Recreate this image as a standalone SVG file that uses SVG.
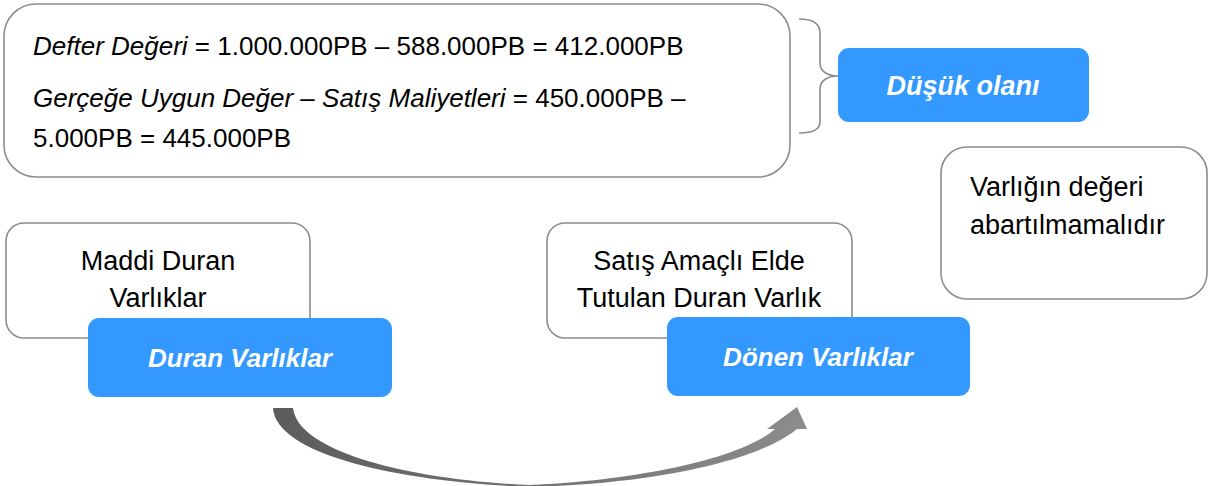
<svg xmlns="http://www.w3.org/2000/svg" width="1213" height="486" viewBox="0 0 1213 486">
  <defs>
    <style>
      .wbox { fill: #ffffff; stroke: #8c8c8c; stroke-width: 1.6; }
      .bbox { fill: #3399ff; stroke: none; }
      .t { font-family: "Liberation Sans", Arial, sans-serif; font-size: 27px; fill: #000000; }
      .tf { font-size: 26px; }
      .tc { text-anchor: middle; }
      .bt { font-family: "Liberation Sans", Arial, sans-serif; font-size: 26px; font-weight: bold; font-style: italic; fill: #ffffff; text-anchor: middle; }
      .it { font-style: italic; }
      .brace { fill: none; stroke: #8c8c8c; stroke-width: 1.6; }
    </style>
    <linearGradient id="arrowGrad" x1="0" y1="0" x2="1" y2="0">
      <stop offset="0" stop-color="#5c5c5c"/>
      <stop offset="1" stop-color="#8c8c8c"/>
    </linearGradient>
  </defs>

  <g id="formula-box">
    <rect class="wbox" x="4" y="4" width="786" height="173" rx="32" ry="32"/>
    <text class="t tf" x="33" y="55"><tspan class="it">Defter Değeri</tspan> = 1.000.000PB – 588.000PB = 412.000PB</text>
    <text class="t tf" x="33" y="107"><tspan class="it">Gerçeğe Uygun Değer – Satış Maliyetleri</tspan> = 450.000PB –</text>
    <text class="t tf" x="33" y="147">5.000PB = 445.000PB</text>
  </g>

  <g id="connectors">
    <path class="brace" d="M799,19 C813,19 820,23 820,33 L820,63 C820,71 827,76 838,76 C827,76 820,81 820,89 L820,122 C820,130 813,133 799,133"/>
    <path fill="url(#arrowGrad)" d="M273,408 C276,455 400,482 530,487 C650,484 757,462 797,429 L807,429 L797,407 L767,429 L775,429 C742,458 640,480 530,485 C410,480 298,452 293,408 Z"/>
  </g>

  <g id="dusuk-olani">
    <rect class="bbox" x="838" y="48" width="251" height="74" rx="11" ry="11"/>
    <text class="bt" x="963" y="95" style="font-size:27px">Düşük olanı</text>
  </g>

  <g id="varligin-degeri">
    <rect class="wbox" x="941" y="147" width="266" height="152" rx="26" ry="26"/>
    <text class="t" x="970" y="196">Varlığın değeri</text>
    <text class="t" x="970" y="234">abartılmamalıdır</text>
  </g>

  <g id="maddi-duran">
    <rect class="wbox" x="6" y="223" width="304" height="115" rx="18" ry="18"/>
    <text class="t tc" x="158" y="270">Maddi Duran</text>
    <text class="t tc" x="158" y="307">Varlıklar</text>
  </g>

  <g id="duran-varliklar">
    <rect class="bbox" x="88" y="318" width="304" height="79" rx="11" ry="11"/>
    <text class="bt" x="240" y="367">Duran Varlıklar</text>
  </g>

  <g id="satis-amacli">
    <rect class="wbox" x="547" y="223" width="305" height="115" rx="18" ry="18"/>
    <text class="t tc" x="699" y="270">Satış Amaçlı Elde</text>
    <text class="t tc" x="699" y="307">Tutulan Duran Varlık</text>
  </g>

  <g id="donen-varliklar">
    <rect class="bbox" x="667" y="317" width="303" height="79" rx="11" ry="11"/>
    <text class="bt" x="818" y="366">Dönen Varlıklar</text>
  </g>
</svg>
